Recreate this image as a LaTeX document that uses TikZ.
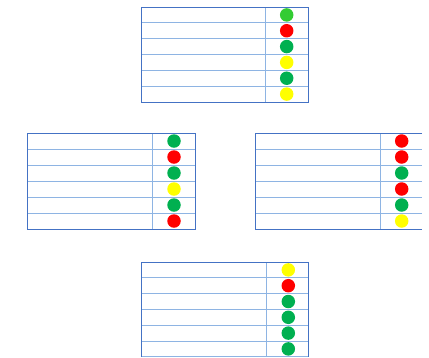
\documentclass[tikz,border=0pt]{standalone}
\usepackage{xcolor}
\usepackage{tikz}
\usetikzlibrary{positioning}
\definecolor{frameblue}{RGB}{68,114,196}
\definecolor{gridblue}{RGB}{142,180,227}
\definecolor{lampgreen}{RGB}{0,176,80}
\definecolor{lamplight}{RGB}{51,204,51}
\definecolor{lampred}{RGB}{255,0,0}
\definecolor{lampyellow}{RGB}{255,255,0}

\begin{document}
\begin{tikzpicture}[x=1pt, y=-1pt,
    frame/.style={draw=frameblue, line width=0.9pt},
    gridline/.style={draw=gridblue, line width=0.8pt},
    lamp/.style={circle, inner sep=0pt, minimum size=13.5pt}]
    \useasboundingbox (0,0) rectangle (429,357);

    % top table
    \foreach \c [count=\i] in {lamplight,lampred,lampgreen,lampyellow,lampgreen,lampyellow} {
        \draw[gridline] (141,{7+15.83*\i}) -- (308,{7+15.83*\i});
        \node[lamp, fill=\c] (north\i) at (286.7,{7+15.83*(\i-0.5)}) {};
    }
    \draw[gridline] (265,7) -- (265,102);
    \draw[frame] (141,7) rectangle (308,102);

    % left table
    \foreach \c [count=\i] in {lampgreen,lampred,lampgreen,lampyellow,lampgreen,lampred} {
        \draw[gridline] (27,{133+16*\i}) -- (195,{133+16*\i});
        \node[lamp, fill=\c] (west\i) at (174,{133+16*(\i-0.5)}) {};
    }
    \draw[gridline] (152.7,133) -- (152.7,229);
    \draw[frame] (27,133) rectangle (195,229);

    % right table
    \foreach \c [count=\i] in {lampred,lampred,lampgreen,lampred,lampgreen,lampyellow} {
        \draw[gridline] (255,{133+16*\i}) -- (422,{133+16*\i});
        \node[lamp, fill=\c] (east\i) at (401.7,{133+16*(\i-0.5)}) {};
    }
    \draw[gridline] (380,133) -- (380,229);
    \draw[frame] (422,133) -- (255,133) -- (255,229) -- (422,229);

    % bottom table
    \foreach \c [count=\i] in {lampyellow,lampred,lampgreen,lampgreen,lampgreen,lampgreen} {
        \draw[gridline] (141,{262+15.8*\i}) -- (308,{262+15.8*\i});
        \node[lamp, fill=\c] (south\i) at (288.3,{262+15.8*(\i-0.5)}) {};
    }
    \draw[gridline] (266.7,262) -- (266.7,357);
    \draw[frame] (141,357) -- (141,262) -- (308,262) -- (308,357);
\end{tikzpicture}
\end{document}
